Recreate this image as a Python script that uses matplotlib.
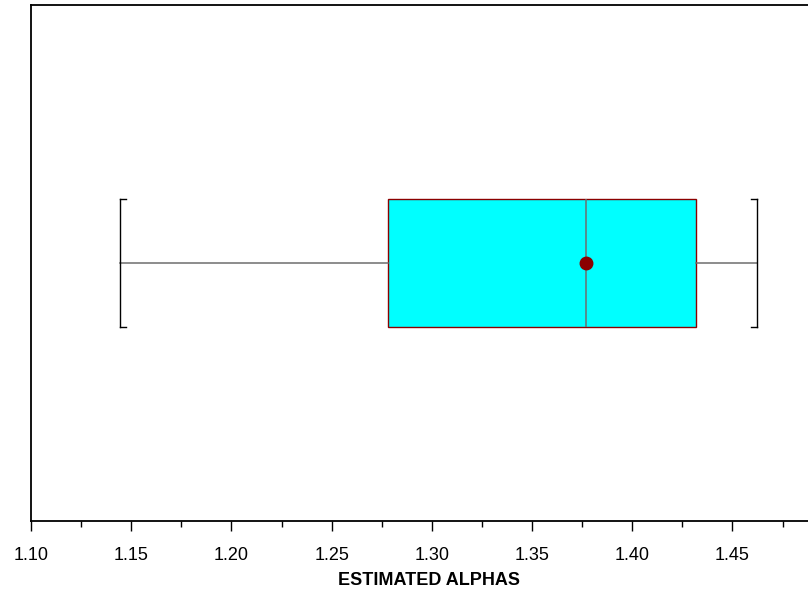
import matplotlib
matplotlib.use("Agg")
import matplotlib.pyplot as plt
from matplotlib.ticker import MultipleLocator

# resumen de los alfas estimados
whisker_lo = 1.1444
q1 = 1.2781
median = 1.3769
mean = 1.3769
q3 = 1.4318
whisker_hi = 1.4623

plt.rcParams['font.family'] = ['Liberation Sans', 'DejaVu Sans']

fig = plt.figure(figsize=(8.08, 5.90), dpi=100)
ax = fig.add_axes([31 / 808, 1 - 521 / 590, 777 / 808, (521 - 5) / 590])

stats = [{
    "whislo": whisker_lo, "q1": q1, "med": median, "mean": mean,
    "q3": q3, "whishi": whisker_hi, "fliers": [],
}]

ax.bxp(stats, positions=[0.5], widths=[0.248], vert=False, patch_artist=True,
       showmeans=True, showfliers=False, capwidths=[0.248],
       boxprops=dict(facecolor="#00FFFF", edgecolor="#8B0000", linewidth=1),
       whiskerprops=dict(color="#6E6E6E", linewidth=1.1),
       capprops=dict(color="black", linewidth=1.0),
       medianprops=dict(color="#6E6E6E", linewidth=1.1),
       meanprops=dict(marker="o", markerfacecolor="#8B0000",
                      markeredgecolor="#8B0000", markersize=9))

# extremos de los corchetes
tick = 0.003
for x, d in [(whisker_lo, tick), (whisker_hi, -tick)]:
    for y in (0.5 - 0.124, 0.5 + 0.124):
        ax.plot([x, x + d], [y, y], color="black", lw=1.0)

# el eje sigue más allá del borde derecho
ax.set_xlim(1.10, 1.10 + 777 / 2004)
ax.set_ylim(0, 1)
ax.set_yticks([])
ax.spines["right"].set_visible(False)
ax.xaxis.set_major_locator(MultipleLocator(0.05))
ax.xaxis.set_minor_locator(MultipleLocator(0.025))
ax.xaxis.set_major_formatter(matplotlib.ticker.FormatStrFormatter("%.2f"))
ax.tick_params(axis="x", which="major", length=7, width=1, labelsize=13, pad=12)
ax.tick_params(axis="x", which="minor", length=4, width=1)
for s in ax.spines.values():
    s.set_linewidth(1.3)
ax.set_xlabel("ESTIMATED ALPHAS", fontsize=13, fontweight="bold")
ax.xaxis.set_label_coords((429 - 31) / 777, -(585 - 521) / 516, transform=ax.transAxes)
ax.xaxis.label.set_va("baseline")

fig.savefig("out.png", dpi=100)
